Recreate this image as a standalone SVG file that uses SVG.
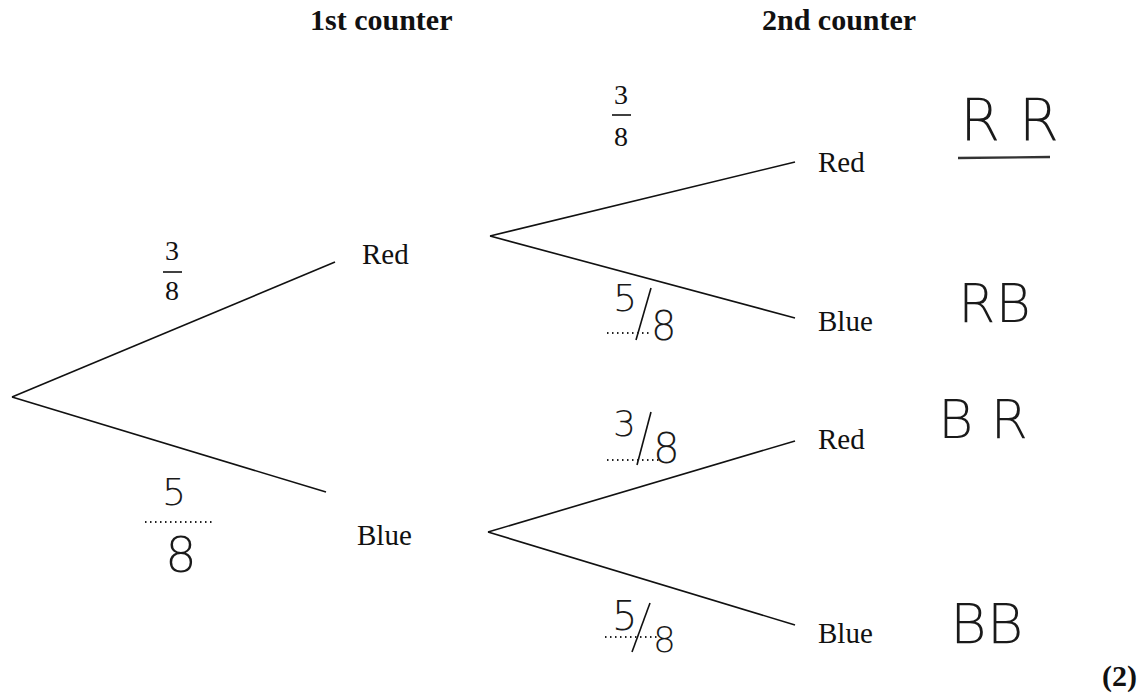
<svg xmlns="http://www.w3.org/2000/svg" width="1140" height="697" viewBox="0 0 1140 697">
<style>
.hd{font-family:"Liberation Serif",serif;font-weight:bold;font-size:30px;fill:#111}
.lb{font-family:"Liberation Serif",serif;font-size:29px;fill:#111}
.fr{font-family:"Liberation Serif",serif;font-size:28px;fill:#111;text-anchor:middle}
.hw{font-family:"DejaVu Sans",sans-serif;font-weight:200;fill:#1a1a1a}
.ln{stroke:#111;stroke-width:1.6;fill:none}
.dot{stroke:#222;stroke-width:2;stroke-dasharray:1.5 3.5;fill:none}
</style>
<rect width="1140" height="697" fill="#fff"/>
<text class="hd" x="310" y="30">1st counter</text>
<text class="hd" x="762" y="30">2nd counter</text>
<g id="connectors">
<line class="ln" x1="12" y1="397" x2="335" y2="262"/>
<line class="ln" x1="12" y1="397" x2="326" y2="492"/>
<line class="ln" x1="490" y1="236" x2="795" y2="162"/>
<line class="ln" x1="490" y1="236" x2="795" y2="318"/>
<line class="ln" x1="488" y1="532" x2="795" y2="441"/>
<line class="ln" x1="488" y1="532" x2="795" y2="625"/>
</g>
<g id="n-red1"><text class="lb" x="362" y="264">Red</text></g>
<g id="n-blue1"><text class="lb" x="357" y="545">Blue</text></g>
<g id="n-rr"><text class="lb" x="818" y="172">Red</text></g>
<g id="n-rb"><text class="lb" x="818" y="331">Blue</text></g>
<g id="n-br"><text class="lb" x="818" y="449">Red</text></g>
<g id="n-bb"><text class="lb" x="818" y="643">Blue</text></g>
<g id="p1">
<text class="fr" x="172" y="260">3</text>
<line class="ln" x1="163" y1="272" x2="182" y2="272" stroke-width="1.2"/>
<text class="fr" x="172" y="300">8</text>
</g>
<g id="p2">
<text class="fr" x="621" y="104">3</text>
<line class="ln" x1="612" y1="115" x2="631" y2="115" stroke-width="1.2"/>
<text class="fr" x="621" y="146">8</text>
</g>
<g id="h1">
<text class="hw" x="162" y="505" font-size="38">5</text>
<path class="dot" d="M145 522 H215"/>
<text class="hw" x="165" y="572" font-size="50">8</text>
</g>
<g id="h2">
<text class="hw" x="613" y="311" font-size="38">5</text>
<line class="ln" x1="651" y1="288" x2="636" y2="340" stroke-width="2"/>
<text class="hw" x="651" y="340" font-size="40">8</text>
<path class="dot" d="M607 333 H650"/>
</g>
<g id="h3">
<text class="hw" x="613" y="436" font-size="36">3</text>
<line class="ln" x1="651" y1="412" x2="637" y2="465" stroke-width="2"/>
<text class="hw" x="653" y="463" font-size="42">8</text>
<path class="dot" d="M607 460 H662"/>
</g>
<g id="h4">
<text class="hw" x="612" y="630" font-size="40">5</text>
<line class="ln" x1="650" y1="603" x2="632" y2="652" stroke-width="2"/>
<text class="hw" x="653" y="652" font-size="36">8</text>
<path class="dot" d="M605 637 H660"/>
</g>
<g id="o-rr">
<text class="hw" x="960" y="140" font-size="58">R R</text>
<line x1="958" y1="158" x2="1050" y2="157" stroke="#333" stroke-width="2.4"/>
</g>
<g id="o-rb"><text class="hw" x="958" y="322" font-size="54">RB</text></g>
<g id="o-br"><text class="hw" x="938" y="438" font-size="54">B R</text></g>
<g id="o-bb"><text class="hw" x="950" y="643" font-size="56">BB</text></g>
<text class="hd" x="1102" y="686" font-size="24">(2)</text>
</svg>
